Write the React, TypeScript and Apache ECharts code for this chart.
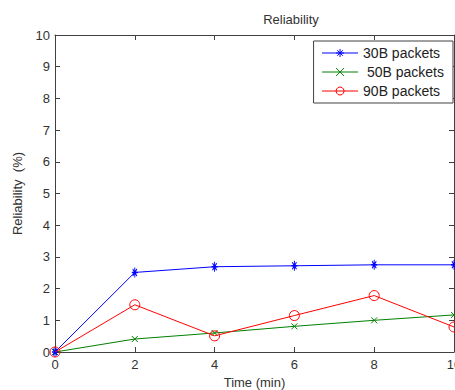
import React, { useEffect, useRef } from "react";
import * as echarts from "echarts";

// Time axis (minutes) and reliability readings (%) per packet size
const timeMin = [0, 2, 4, 6, 8, 10];
const reliability30B = [0, 2.51, 2.69, 2.72, 2.75, 2.75];
const reliability50B = [0, 0.41, 0.6, 0.81, 1.0, 1.17];
const reliability90B = [0, 1.49, 0.51, 1.15, 1.78, 0.79];
const seriesNames = ["30B packets", " 50B packets", "90B packets"];

const FONT = "Liberation Sans, Arial, sans-serif";
const AXIS_COLOR = "#404040";

// stroke-only marker shapes
const STAR = "path://M0,-6L0,6M-6,0L6,0M-4.2,-4.2L4.2,4.2M-4.2,4.2L4.2,-4.2";
const CROSS = "path://M-5,-5L5,5M-5,5L5,-5";
const RING = "path://M0,-5A5,5,0,1,1,-0.01,-5Z";

export default function App() {
  const ref = useRef<HTMLDivElement>(null);

  useEffect(() => {
    if (!ref.current) return;
    const chart = echarts.init(ref.current, undefined, { renderer: "svg" });

    const pairs = (ys: number[]) => timeMin.map((t, i) => [t, ys[i]]);

    const baseAxisLine = { show: true, onZero: false, lineStyle: { color: AXIS_COLOR, width: 1 } };
    const baseTick = { show: true, inside: true, length: 5, lineStyle: { color: AXIS_COLOR } };
    const label = { color: "#333", fontFamily: FONT, fontSize: 13 };

    chart.setOption({
      animation: false,
      backgroundColor: "#ffffff",
      grid: { left: 55, top: 35, right: 1, bottom: 38, outerBoundsMode: "none", containLabel: false },
      graphic: [
        {
          type: "text",
          x: 291,
          y: 19,
          style: {
            text: "Reliability",
            fontFamily: FONT,
            fontSize: 13,
            fill: "#333",
            textAlign: "center",
            textVerticalAlign: "middle",
          },
        },
      ],
      legend: {
        orient: "vertical",
        right: 2,
        top: 41,
        data: seriesNames,
        borderColor: AXIS_COLOR,
        borderWidth: 1,
        backgroundColor: "#fff",
        padding: [5, 9, 5, 8],
        itemGap: 5,
        itemWidth: 36,
        itemHeight: 10,
        lineStyle: { width: 1 },
        itemStyle: { borderWidth: 1 },
        textStyle: { fontFamily: FONT, fontSize: 14, color: "#222" },
      },
      xAxis: [
        {
          type: "value",
          min: 0,
          max: 10,
          interval: 2,
          name: "Time (min)",
          nameLocation: "middle",
          nameGap: 24,
          nameTextStyle: { fontFamily: FONT, fontSize: 13, color: "#333" },
          axisLine: baseAxisLine,
          axisTick: baseTick,
          axisLabel: { ...label, margin: 6 },
          splitLine: { show: false },
        },
        {
          type: "value",
          position: "top",
          min: 0,
          max: 10,
          interval: 2,
          axisLine: baseAxisLine,
          axisTick: baseTick,
          axisLabel: { show: false },
          splitLine: { show: false },
        },
      ],
      yAxis: [
        {
          type: "value",
          min: 0,
          max: 10,
          interval: 1,
          name: "Reliability  (%)",
          nameLocation: "middle",
          nameGap: 31,
          nameTextStyle: { fontFamily: FONT, fontSize: 13, color: "#333" },
          axisLine: baseAxisLine,
          axisTick: baseTick,
          axisLabel: { ...label, margin: 5 },
          splitLine: { show: false },
        },
        {
          type: "value",
          position: "right",
          min: 0,
          max: 10,
          interval: 1,
          axisLine: baseAxisLine,
          axisTick: baseTick,
          axisLabel: { show: false },
          splitLine: { show: false },
        },
      ],
      series: [
        {
          name: seriesNames[0],
          type: "line",
          data: pairs(reliability30B),
          symbol: STAR,
          symbolSize: [6, 10],
          lineStyle: { color: "#0000ff", width: 1 },
          itemStyle: { color: "#0000ff", borderColor: "#0000ff", borderWidth: 1.2 },
          z: 3,
        },
        {
          name: seriesNames[1],
          type: "line",
          data: pairs(reliability50B),
          symbol: CROSS,
          symbolSize: 6,
          lineStyle: { color: "#008000", width: 1 },
          itemStyle: { color: "#008000", borderColor: "#008000", borderWidth: 1 },
          z: 2,
        },
        {
          name: seriesNames[2],
          type: "line",
          data: pairs(reliability90B),
          symbol: RING,
          symbolSize: 10,
          lineStyle: { color: "#ff0000", width: 1 },
          itemStyle: { color: "rgba(255,255,255,0)", borderColor: "#ff0000", borderWidth: 1 },
          z: 4,
        },
      ],
    });

    return () => chart.dispose();
  }, []);

  return (
    <div
      ref={ref}
      style={{ width: 455, height: 390, position: "absolute", left: 0, top: 0 }}
    />
  );
}
